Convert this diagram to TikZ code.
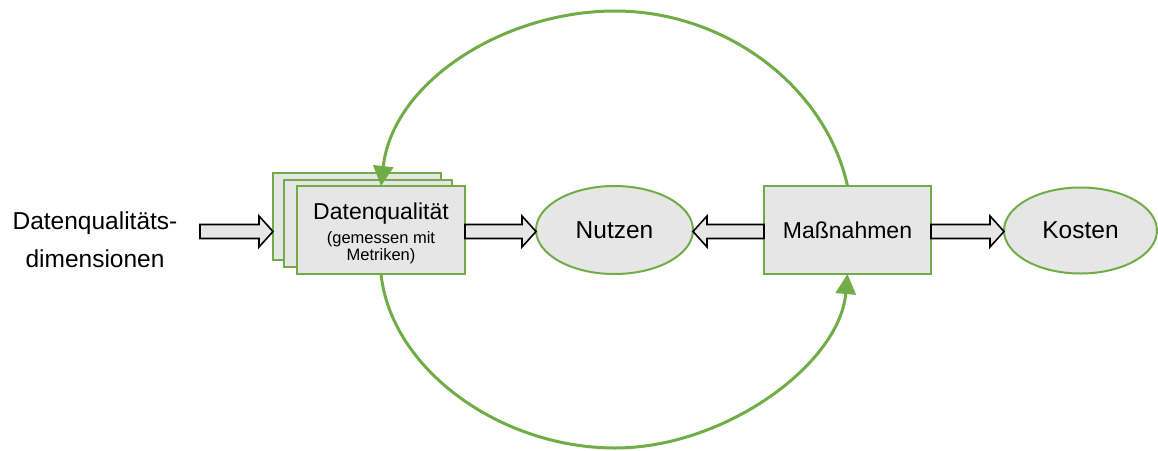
\documentclass[tikz,border=0pt]{standalone}
\usepackage{fontspec}
\setmainfont{Liberation Sans}
\usetikzlibrary{arrows.meta,calc,shapes.geometric}
\definecolor{leafgreen}{HTML}{70AD47}
\definecolor{paper}{HTML}{E7E6E6}

% hollow block arrow from #1 (tail) to #2 (tip), horizontal
\newcommand\hollowarrow[2]{%
  \draw[blockarr] let \p1=(#1), \p2=(#2),
      \n1={\x2-14*((\x2)-(\x1))/abs((\x2)-(\x1))},
      \n2={\y1-1.5pt} in
    (\x1,\n2+7pt) -- (\n1,\n2+7pt) -- (\n1,\n2+15.5pt) -- (\x2,\n2)
    -- (\n1,\n2-15.5pt) -- (\n1,\n2-7pt) -- (\x1,\n2-7pt) -- cycle;}

\begin{document}
\begin{tikzpicture}[x=1pt,y=-1pt,
  card/.style={draw=leafgreen,line width=2pt,fill=paper,minimum width=168pt,
    minimum height=87pt,inner sep=0pt,outer sep=0pt},
  oval/.style={ellipse,draw=leafgreen,line width=2pt,fill=paper,inner sep=0pt,outer sep=0pt},
  big/.style={font=\fontsize{24.5}{28}\selectfont},
  mid/.style={font=\fontsize{23}{26}\selectfont},
  small/.style={font=\fontsize{16.5}{18}\selectfont},
  loop/.style={draw=leafgreen,line width=3pt,-{Triangle[length=20pt,width=20pt]}},
  blockarr/.style={draw=black,line width=1.6pt,fill=paper,line join=miter}
]
\useasboundingbox (0,0) rectangle (1158,450);

% input label
\node[big,anchor=base] (dimA) at (95,229.5) {Datenqualitäts-};
\node[big,anchor=base] (dimB) at (95,267) {dimensionen};
\coordinate (src) at (200,230);

% stacked quality cards
\node[card] (dqback) at (357,216.5) {};
\node[card] (dqmid) at (368,223.5) {};
\node[card,minimum height=88pt] (dq) at (381,230) {};
\node[mid,anchor=base] (dqtitle) at (381,219) {Datenqualität};
\node[small,anchor=base] (dqnoteA) at (381,243) {(gemessen mit};
\node[small,anchor=base] (dqnoteB) at (381,260) {Metriken)};

% benefit, measures, cost
\node[oval,big,minimum width=157pt,minimum height=88pt] (nutzen) at (614.5,230) {Nutzen};
\node[card,mid,minimum width=167pt,minimum height=88pt] (mn) at (847.5,230) {Maßnahmen};
\node[oval,big,minimum width=153pt,minimum height=86pt] (kosten) at (1080.5,230.5) {Kosten};

% block arrows
\hollowarrow{src}{dqback.west}
\hollowarrow{dq.east}{nutzen.west}
\hollowarrow{mn.west}{nutzen.east}
\hollowarrow{mn.east}{kosten.west}

% feedback loops
\coordinate (topapex) at (615,11);
\coordinate (botapex) at (615,448);
\draw[loop] (mn.north) .. controls +(-22,-100) and +(110,0) .. (topapex)
  .. controls +(-110,0) and +(12,-105) .. (dq.north);
\draw[loop] (dq.south) .. controls +(10,95) and +(-115,0) .. (botapex)
  .. controls +(110,0) and +(-8,90) .. (mn.south);
\end{tikzpicture}
\end{document}
